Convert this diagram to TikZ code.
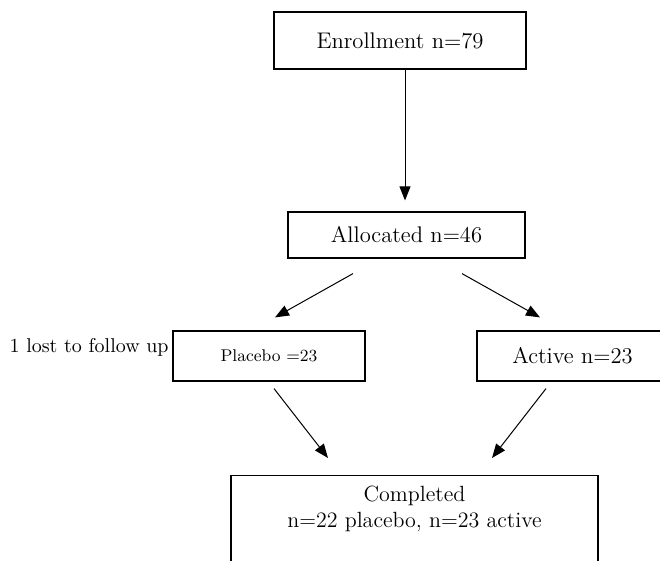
\documentclass[tikz,border=0pt]{standalone}
\usetikzlibrary{arrows.meta}

\tikzset{
    box/.style={draw, line width=0.6pt, inner sep=0pt, align=center,
        font=\fontsize{11.3}{13.5}\selectfont},
    freccia/.style={-{Triangle[length=7pt,width=5.5pt]}, line width=0.5pt}
}

\begin{document}
\begin{tikzpicture}[x=0.5pt, y=-0.5pt]

    \clip (0,0) rectangle (660,561);

    % Riquadri principali
    \node[box, minimum width=126pt, minimum height=28.5pt] (enroll) at (400,40.5) {Enrollment n=79};
    \node[box, minimum width=118.5pt, minimum height=23pt] (alloc) at (406.5,235) {Allocated n=46};
    \node[box, minimum width=96pt, minimum height=25pt, font=\fontsize{8.5}{10}\selectfont] (placebo) at (269,356) {Placebo =23};
    \node[box, minimum width=95.5pt, minimum height=25pt] (active) at (572.5,356) {Active n=23};
    \node[box, anchor=north, minimum width=183.5pt, inner ysep=5pt, text depth=30pt,
        font=\fontsize{11}{13}\selectfont] (completed) at (414.5,475)
        {Completed\\n=22 placebo, n=23 active};

    % Nota a sinistra
    \node[anchor=east, inner sep=0pt, font=\fontsize{10}{12}\selectfont] (lost) at (169,347) {1 lost to follow up};

    % Frecce
    \draw[freccia, shorten >=5.5pt]
        ([xshift=2.5pt]enroll.south) -- ([xshift=-0.75pt]alloc.north);

    \draw[freccia]
        ([xshift=-26.75pt,yshift=-7.5pt]alloc.south) -- ([xshift=3pt,yshift=6.5pt]placebo.north);

    \draw[freccia]
        ([xshift=27.75pt,yshift=-7.5pt]alloc.south) -- ([xshift=-16.25pt,yshift=6.5pt]active.north);

    \draw[freccia]
        ([xshift=2.5pt,yshift=-3.5pt]placebo.south) -- ([xshift=-43.25pt,yshift=8.5pt]completed.north);

    \draw[freccia]
        ([xshift=-13.25pt,yshift=-3.5pt]active.south) -- ([xshift=38.75pt,yshift=8.5pt]completed.north);

\end{tikzpicture}
\end{document}
